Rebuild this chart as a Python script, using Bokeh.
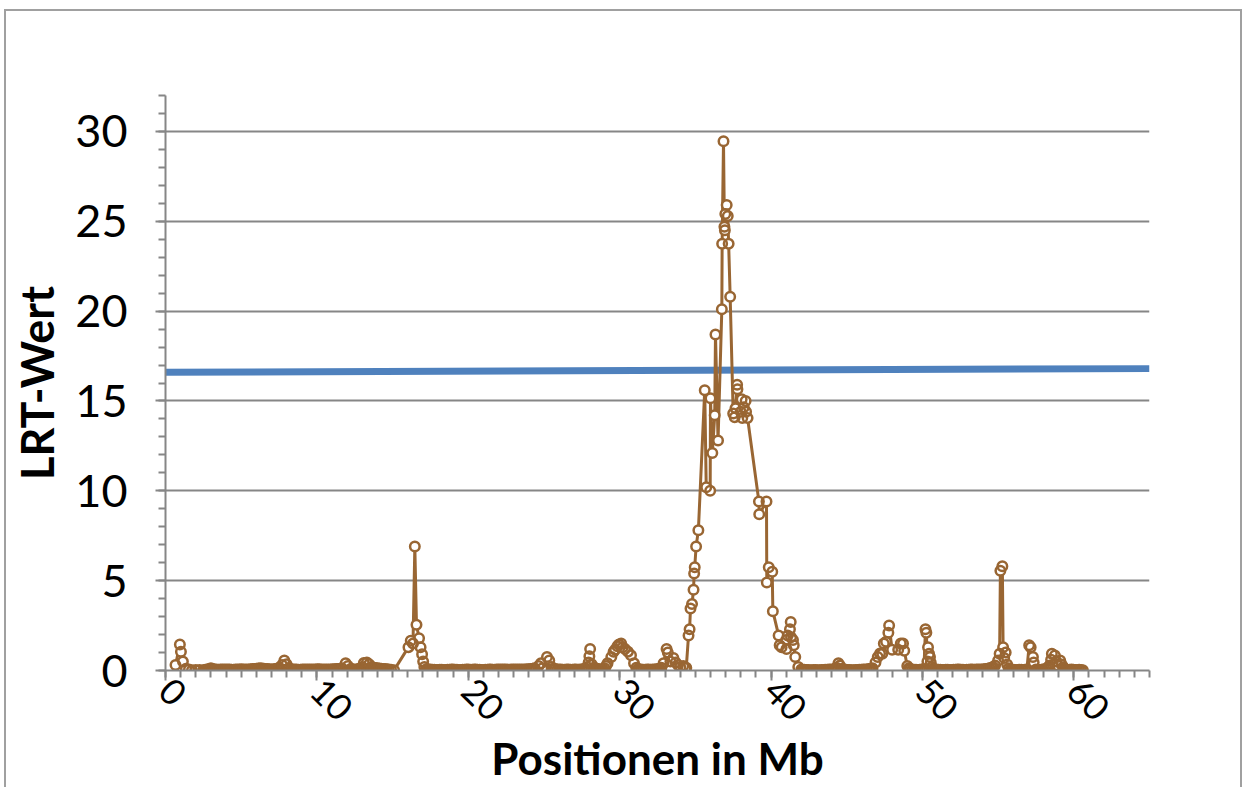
import math
from bokeh.plotting import figure
from bokeh.models import Range1d, SingleIntervalTicker
from bokeh.embed import file_html
from bokeh.resources import INLINE

# ---- data ----
pos_mb = [
    0.66, 0.95, 1.02, 1.15, 1.35, 1.55,
    1.75, 2.0, 2.25, 2.5,
    2.625, 2.75, 2.875, 3.0, 3.125, 3.25, 3.375, 3.5, 3.625, 3.75, 3.875, 4.0,
    4.125, 4.25, 4.375, 4.5, 4.625, 4.75, 4.875, 5.0, 5.125, 5.25, 5.375, 5.5,
    5.625, 5.75, 5.875, 6.0, 6.125, 6.25, 6.375, 6.5, 6.625, 6.75, 6.875, 7.0,
    7.125, 7.25, 7.375, 7.5,
    7.7, 7.85, 8.0, 8.15,
    8.275, 8.4, 8.525, 8.65, 8.775, 8.9, 9.025, 9.15, 9.275, 9.4, 9.525, 9.65,
    9.775, 9.9, 10.025, 10.15, 10.275, 10.4, 10.525, 10.65, 10.775, 10.9, 11.025,
    11.15, 11.275, 11.4, 11.525, 11.65,
    11.9, 12.05, 12.25, 12.375, 12.5, 12.625, 12.75, 12.875, 13.0,
    13.1, 13.3, 13.45, 13.6, 13.7, 13.8, 13.9, 14.0, 14.125, 14.25, 14.375, 14.5,
    14.625, 14.75, 14.9, 15.1,
    16.05, 16.2, 16.35, 16.47, 16.58, 16.75, 16.85, 16.95, 17.02, 17.1,
    17.25, 17.375, 17.5, 17.625, 17.75, 17.875, 18.0, 18.125, 18.25, 18.375, 18.5,
    18.625, 18.75, 18.875, 19.0, 19.125, 19.25, 19.375, 19.5, 19.625, 19.75, 19.875,
    20.0, 20.125, 20.25, 20.375, 20.5, 20.625, 20.75, 20.875, 21.0, 21.125, 21.25,
    21.375, 21.5, 21.625, 21.75, 21.875, 22.0, 22.125, 22.25, 22.375, 22.5, 22.625,
    22.75, 22.875, 23.0, 23.125, 23.25, 23.375, 23.5, 23.625, 23.75, 23.875, 24.0,
    24.125, 24.25, 24.375,
    24.65, 24.8, 24.9, 25.2, 25.35, 25.5,
    25.625, 25.75, 25.875, 26.0, 26.125, 26.25, 26.375, 26.5, 26.625, 26.75, 26.875,
    27.0, 27.125, 27.25, 27.375, 27.5, 27.625, 27.75, 27.85,
    27.95, 28.0, 28.05, 28.15, 28.3, 28.4, 28.5, 28.6, 28.7, 28.8, 28.9, 29.0,
    29.1, 29.2, 29.45, 29.6, 29.7, 29.85, 29.95, 30.1, 30.2, 30.35, 30.55, 30.75,
    30.95, 31.1,
    31.2, 31.3, 31.425, 31.55, 31.675, 31.8, 31.925, 32.05, 32.175, 32.3, 32.425,
    32.55, 32.65, 32.75,
    32.9, 33.1, 33.18, 33.35, 33.55, 33.7, 33.85, 34.0, 34.2, 34.35,
    34.4, 34.55, 34.62, 34.68, 34.78, 34.88, 34.92, 34.96, 35.05, 35.2,
    35.62, 35.72, 35.98, 36.0, 36.12, 36.28, 36.33, 36.5, 36.75, 36.77,
    36.86, 36.92, 36.95, 36.98, 37.07, 37.14, 37.2, 37.3, 37.5, 37.6,
    37.65, 37.76, 37.78, 38.0, 38.06, 38.1, 38.2, 38.32, 38.35, 38.45,
    39.2, 39.22, 39.7, 39.72, 39.85, 40.08, 40.12, 40.5, 40.57, 40.7,
    41.0, 41.02, 41.1, 41.25, 41.3, 41.32, 41.45, 41.5, 41.6, 41.8, 42.0,
    42.1, 42.2, 42.325, 42.45, 42.575, 42.7, 42.825, 42.95, 43.075, 43.2, 43.325,
    43.45, 43.575, 43.7, 43.825, 43.95, 44.075, 44.2, 44.325,
    44.45, 44.55, 44.7,
    44.825, 44.95, 45.075, 45.2, 45.325, 45.45, 45.575, 45.7, 45.825, 45.95,
    46.075, 46.2, 46.325, 46.45, 46.575, 46.7,
    46.9, 47.05, 47.2, 47.35, 47.45, 47.6, 47.75, 47.8, 48.0, 48.4, 48.57, 48.72,
    48.8, 49.0, 49.1, 49.2, 49.325, 49.45, 49.575, 49.7, 49.825, 49.95,
    50.1, 50.2, 50.26, 50.33, 50.37, 50.44, 50.5, 50.55, 50.62, 50.7, 50.8,
    50.925, 51.05, 51.175, 51.3, 51.425, 51.55, 51.675, 51.8, 51.925, 52.05,
    52.175, 52.3, 52.425, 52.55, 52.675, 52.8, 52.925, 53.05, 53.175, 53.3,
    53.425, 53.55, 53.675, 53.8, 53.925, 54.05, 54.175, 54.3, 54.425, 54.55, 54.675,
    54.8, 55.0, 55.1, 55.15, 55.28, 55.33, 55.4, 55.5, 55.6, 55.7, 55.8,
    55.9, 56.025, 56.15, 56.275, 56.4, 56.525, 56.65, 56.775, 56.9,
    57.05, 57.15, 57.3, 57.35, 57.5, 57.625, 57.75, 57.85, 57.95, 58.075, 58.2,
    58.3, 58.4, 58.5, 58.55, 58.75, 58.85, 58.95, 59.1, 59.2, 59.3, 59.4, 59.5,
    59.6, 59.725, 59.85, 59.975, 60.1, 60.225, 60.35, 60.475, 60.6,
]
lrt_value = [
    0.30, 1.45, 1.05, 0.50, 0.10, 0.05,
    0.02, 0.03, 0.03, 0.02,
    0.04, 0.05, 0.08, 0.12, 0.08, 0.06, 0.05, 0.04, 0.05, 0.05, 0.06, 0.06,
    0.05, 0.05, 0.04, 0.04, 0.05, 0.06, 0.06, 0.07, 0.06, 0.05, 0.06, 0.06,
    0.07, 0.08, 0.09, 0.10, 0.11, 0.12, 0.11, 0.10, 0.09, 0.08, 0.07, 0.06,
    0.07, 0.08, 0.10, 0.15,
    0.30, 0.55, 0.35, 0.12,
    0.08, 0.06, 0.05, 0.05, 0.04, 0.04, 0.05, 0.05, 0.06, 0.06, 0.05, 0.05,
    0.06, 0.06, 0.07, 0.07, 0.06, 0.06, 0.05, 0.05, 0.06, 0.06, 0.07,
    0.07, 0.08, 0.08, 0.10, 0.12,
    0.40, 0.25, 0.10, 0.06, 0.05, 0.06, 0.08, 0.12, 0.20,
    0.42, 0.45, 0.35, 0.20, 0.17, 0.15, 0.13, 0.12, 0.11, 0.10, 0.09, 0.08,
    0.07, 0.06, 0.04, 0.02,
    1.30, 1.65, 1.50, 6.90, 2.55, 1.80, 1.30, 0.90, 0.50, 0.20,
    0.08, 0.06, 0.05, 0.04, 0.04, 0.03, 0.03, 0.04, 0.04, 0.03, 0.03,
    0.04, 0.04, 0.05, 0.05, 0.04, 0.04, 0.03, 0.03, 0.04, 0.04, 0.05,
    0.05, 0.04, 0.04, 0.05, 0.05, 0.04, 0.04, 0.03, 0.03, 0.04, 0.04,
    0.05, 0.05, 0.04, 0.04, 0.05, 0.05, 0.06, 0.06, 0.05, 0.05, 0.04,
    0.04, 0.05, 0.05, 0.06, 0.06, 0.05, 0.05, 0.06, 0.06, 0.07, 0.07,
    0.08, 0.10, 0.12,
    0.25, 0.40, 0.12, 0.75, 0.55, 0.20,
    0.10, 0.08, 0.06, 0.05, 0.05, 0.04, 0.04, 0.05, 0.05, 0.04, 0.04,
    0.05, 0.05, 0.04, 0.05, 0.06, 0.08, 0.10, 0.20,
    0.45, 0.80, 1.20, 0.35, 0.15, 0.12, 0.10, 0.07, 0.05, 0.05, 0.05, 0.12,
    0.25, 0.40, 0.75, 1.05, 1.15, 1.35, 1.45, 1.50, 1.30, 1.20, 1.05, 0.85,
    0.40, 0.15,
    0.08, 0.05, 0.05, 0.04, 0.04, 0.05, 0.05, 0.04, 0.05, 0.06, 0.07,
    0.08, 0.10, 0.15,
    0.40, 1.20, 1.00, 0.50, 0.70, 0.45, 0.30, 0.20, 0.25, 0.15,
    0.15, 1.95, 2.30, 3.45, 3.70, 4.50, 5.40, 5.75, 6.90, 7.80,
    15.60, 10.20, 10.00, 15.15, 12.10, 14.20, 18.70, 12.80, 20.10, 23.75,
    29.45, 24.70, 24.50, 25.40, 25.90, 25.30, 23.75, 20.80, 14.30, 14.10,
    14.60, 15.90, 15.65, 14.40, 15.10, 14.05, 14.65, 15.00, 14.40, 14.05,
    9.40, 8.70, 9.40, 4.90, 5.75, 5.50, 3.30, 1.95, 1.40, 1.30,
    1.70, 1.20, 1.95, 2.30, 2.70, 1.85, 1.70, 1.40, 0.75, 0.20, 0.05,
    0.04, 0.04, 0.03, 0.03, 0.02, 0.02, 0.03, 0.03, 0.02, 0.02, 0.03,
    0.03, 0.04, 0.04, 0.05, 0.05, 0.06, 0.08, 0.15,
    0.40, 0.28, 0.10,
    0.06, 0.04, 0.03, 0.03, 0.02, 0.02, 0.03, 0.03, 0.04, 0.04,
    0.05, 0.05, 0.06, 0.08, 0.10, 0.12,
    0.45, 0.75, 0.95, 0.93, 1.50, 1.60, 2.10, 2.50, 1.15, 1.15, 1.50, 1.50,
    1.10, 0.25, 0.12, 0.08, 0.05, 0.04, 0.04, 0.03, 0.04, 0.05,
    0.08, 2.30, 2.10, 0.50, 1.30, 0.93, 0.75, 0.45, 0.20, 0.10, 0.06,
    0.05, 0.04, 0.04, 0.03, 0.03, 0.04, 0.04, 0.03, 0.03, 0.04,
    0.04, 0.05, 0.05, 0.04, 0.04, 0.03, 0.04, 0.04, 0.05, 0.05,
    0.04, 0.05, 0.05, 0.06, 0.06, 0.07, 0.08, 0.10, 0.12, 0.15, 0.20,
    0.28, 0.55, 0.93, 5.55, 5.80, 1.30, 0.70, 1.00, 0.33, 0.12, 0.06,
    0.04, 0.04, 0.03, 0.03, 0.04, 0.04, 0.03, 0.04, 0.05,
    1.40, 1.30, 0.75, 0.45, 0.05, 0.04, 0.03, 0.04, 0.05, 0.07, 0.10,
    0.18, 0.28, 0.60, 0.93, 0.83, 0.50, 0.28, 0.55, 0.33, 0.18, 0.10, 0.06,
    0.04, 0.04, 0.05, 0.04, 0.03, 0.03, 0.04, 0.03, 0.02,
]
threshold_x = [0, 65]
threshold_y = [16.6, 16.8]

x_title = "Positionen in Mb"
y_title = "LRT-Wert"

BROWN = "#996633"
BLUE = "#4f81bd"
GRAY = "#868686"
FONT = "Lato"

# canvas sits inside a CSS frame (outer chart border): starts at x=6, y=11
p = figure(width=1238, height=778, output_backend="svg", toolbar_location=None,
           x_range=Range1d(0, 65), y_range=Range1d(0, 32),
           min_border_left=159, min_border_right=95, min_border_top=84, min_border_bottom=119,
           styles={"margin-left": "4px", "margin-top": "9px",
                   "border-left": "2px solid #a0a0a0",
                   "border-top": "2px solid #a0a0a0",
                   "border-right": "2px solid #a0a0a0"})
p.outline_line_color = None
p.background_fill_color = "white"
p.border_fill_color = "white"

# axes
p.xaxis.ticker = SingleIntervalTicker(interval=10, num_minor_ticks=10)
p.yaxis.ticker = SingleIntervalTicker(interval=5, num_minor_ticks=5)
for ax in (p.xaxis, p.yaxis):
    ax.axis_line_color = GRAY
    ax.axis_line_width = 2
    ax.major_tick_line_color = GRAY
    ax.major_tick_line_width = 2
    ax.minor_tick_line_color = GRAY
    ax.minor_tick_line_width = 2
    ax.major_tick_in = 0
    ax.minor_tick_in = 0
    ax.major_tick_out = 10
    ax.minor_tick_out = 7
    ax.major_label_text_font = FONT
    ax.major_label_text_color = "black"
    ax.axis_label_text_font = FONT
    ax.axis_label_text_font_style = "bold"
    ax.axis_label_text_color = "black"

p.yaxis.major_label_text_font_size = "45px"
p.xaxis.major_label_text_font_size = "36px"
p.xaxis.major_label_orientation = -math.pi / 4
p.yaxis.major_label_standoff = 28
p.xaxis.major_label_standoff = 4
p.xaxis.axis_label = x_title
p.yaxis.axis_label = y_title
p.xaxis.axis_label_text_font_size = "44px"
p.yaxis.axis_label_text_font_size = "45px"
p.yaxis.axis_label_standoff = 8
p.xaxis.axis_label_standoff = -3

p.xgrid.visible = False
p.ygrid.grid_line_color = GRAY
p.ygrid.grid_line_width = 2

# series
p.line(threshold_x, threshold_y, line_color=BLUE, line_width=7)
p.line(pos_mb, lrt_value, line_color=BROWN, line_width=3)
# marker interiors first, then all marker rings on top
p.scatter(pos_mb, lrt_value, marker="circle", size=9.5, fill_color="white", line_color=None)
p.scatter(pos_mb, lrt_value, marker="circle", size=9.5, fill_color=None,
          line_color=BROWN, line_width=2.5)

open("out.html", "w").write(file_html(p, INLINE))
